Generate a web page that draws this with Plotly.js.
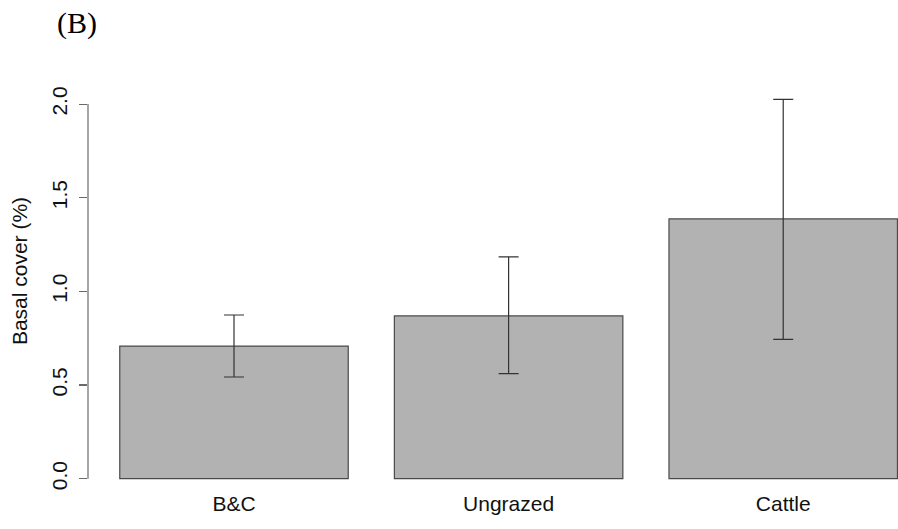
<!DOCTYPE html>
<html>
<head>
<meta charset="utf-8">
<script src="https://cdn.plot.ly/plotly-3.0.1.min.js"></script>
<style>html,body{margin:0;padding:0;background:#fff;}#chart{width:898px;height:529px;}</style>
</head>
<body>
<div id="chart"></div>
<script>
const categories = ['B&C', 'Ungrazed', 'Cattle'];
const basalCover = [0.708, 0.869, 1.387];
const errUpper = [0.166, 0.315, 0.638];
const errLower = [0.165, 0.308, 0.643];
const yTickVals = [0, 0.5, 1.0, 1.5, 2.0];
const yTickText = ['0.0', '0.5', '1.0', '1.5', '2.0'];

const trace = {
  type: 'bar',
  x: categories,
  y: basalCover,
  marker: { color: '#b2b2b2', line: { color: '#4a4a4a', width: 1.2 } },
  error_y: {
    type: 'data', symmetric: false,
    array: errUpper, arrayminus: errLower,
    color: '#333333', thickness: 1.2, width: 10
  },
  hoverinfo: 'none'
};

const layout = {
  width: 898, height: 529,
  margin: { l: 88, r: 0, t: 60, b: 47 },
  paper_bgcolor: '#ffffff', plot_bgcolor: '#ffffff',
  showlegend: false,
  bargap: 0.168,
  font: { family: 'Liberation Sans, Arial, sans-serif', size: 21, color: '#111' },
  title: {
    text: '(B)', xref: 'container', yref: 'container',
    x: 77 / 898, xanchor: 'center', y: 1 - 22 / 529, yanchor: 'middle',
    font: { family: 'Liberation Serif, Times New Roman, serif', size: 30, color: '#000' }
  },
  xaxis: {
    type: 'category',
    range: [-0.5317, 2.418],
    showline: false, showgrid: false, zeroline: false,
    ticks: '', ticklabelstandoff: 7,
    tickfont: { size: 21, color: '#111' }
  },
  yaxis: {
    range: [-0.01762, 2.2355],
    showline: false, showgrid: false, zeroline: false,
    tickmode: 'array', tickvals: yTickVals, ticktext: yTickText,
    ticks: 'outside', ticklen: 8, tickwidth: 1.2, tickcolor: '#6a6a6a',
    tickangle: -90, ticklabelstandoff: 4,
    tickfont: { size: 21, color: '#111' },
    title: { text: 'Basal cover (%)', standoff: 14, font: { size: 21, color: '#111' } }
  },
  shapes: [{
    type: 'line', xref: 'paper', yref: 'y',
    x0: 0, x1: 0, y0: yTickVals[0], y1: yTickVals[yTickVals.length - 1],
    line: { color: '#6a6a6a', width: 1.2 }
  }]
};

Plotly.newPlot('chart', [trace], layout, { displayModeBar: false, staticPlot: true });
</script>
</body>
</html>
